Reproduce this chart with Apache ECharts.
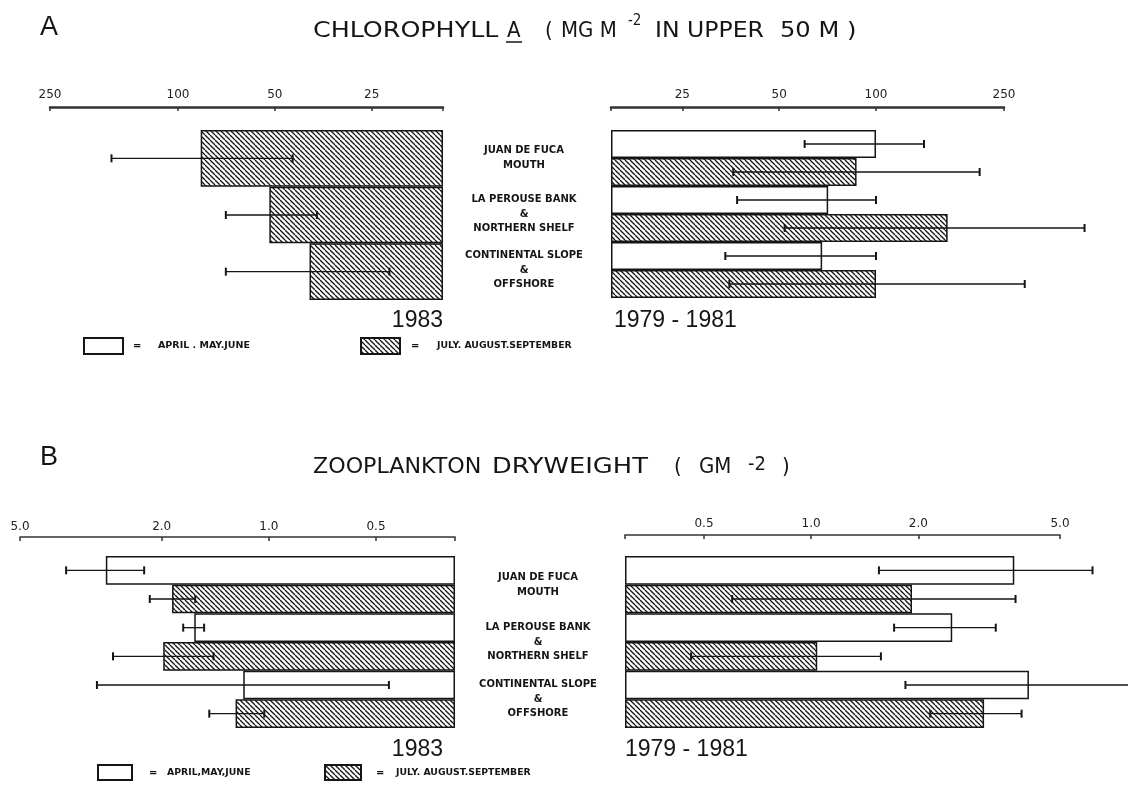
<!DOCTYPE html>
<html>
<head>
<meta charset="utf-8">
<script src="https://cdn.jsdelivr.net/npm/echarts@6/dist/echarts.min.js"></script>
<style>
html,body{margin:0;padding:0;background:#fff;}
#chart{width:1128px;height:789px;}
</style>
</head>
<body>
<div id="chart"></div>
<script>
// ---------------- DATA ----------------
const regions = ['JUAN DE FUCA\nMOUTH', 'LA PEROUSE BANK\n&\nNORTHERN SHELF', 'CONTINENTAL SLOPE\n&\nOFFSHORE'];

// Panel A: chlorophyll a (mg m^-2 in upper 50 m)
const chlAxisMin = 15, chlAxisMax = 250;
const chlTicks = [250, 100, 50, 25];
const chl1983Summer   = [85, 52, 39];
const chl1983SummerLo = [44, 37, 22];
const chl1983SummerHi = [161, 71, 71];
const chl7981Spring   = [100, 71, 68];
const chl7981SpringLo = [60, 37, 34];
const chl7981SpringHi = [141, 100, 100];
const chl7981Summer   = [87, 167, 100];
const chl7981SummerLo = [36, 52, 35];
const chl7981SummerHi = [210, 445, 290];

// Panel B: zooplankton dryweight (g m^-2)
const zooAxisMin = 0.3, zooAxisMax = 5.0;
const zooTicks = [5.0, 2.0, 1.0, 0.5];
const zoo1983Spring   = [2.87, 1.62, 1.18];
const zoo1983SpringLo = [2.24, 1.52, 0.46];
const zoo1983SpringHi = [3.71, 1.74, 3.04];
const zoo1983Summer   = [1.87, 1.98, 1.24];
const zoo1983SummerLo = [1.61, 1.43, 1.03];
const zoo1983SummerHi = [2.16, 2.74, 1.47];
const zoo7981Spring   = [3.72, 2.49, 4.09];
const zoo7981SpringLo = [1.55, 1.71, 1.84];
const zoo7981SpringHi = [6.17, 3.30, 9.0];
const zoo7981Summer   = [1.92, 1.04, 3.06];
const zoo7981SummerLo = [0.60, 0.46, 2.16];
const zoo7981SummerHi = [3.75, 1.57, 3.90];

// ---------------- STYLE ----------------
const INK = '#151515';
function makeHatch() {
  const c = document.createElement('canvas');
  c.width = 5; c.height = 5;
  const g = c.getContext('2d');
  g.strokeStyle = INK; g.lineWidth = 1.3;
  for (const o of [-5, 0, 5]) { g.beginPath(); g.moveTo(o, 0); g.lineTo(o + 5, 5); g.stroke(); }
  return c;
}
const hatch = {image: makeHatch(), repeat: 'repeat'};

const logU = base => v => Math.log10(v / base);
const uChl = logU(chlAxisMin), uZoo = logU(zooAxisMin);

function valAxis(gi, u, base, max, ticks, inverse, offset, lw, fmt, margin) {
  return {
    type: 'value', gridIndex: gi, position: 'top', inverse, offset,
    min: 0, max: u(max),
    splitLine: {show: false},
    axisLine: {show: true, lineStyle: {color: '#333', width: lw}},
    axisTick: {show: true, inside: true, length: 4, customValues: [0].concat(ticks.map(u)),
               lineStyle: {color: '#333', width: 1.5}},
    axisLabel: {show: true, customValues: ticks.map(u), margin,
                formatter: v => fmt(base * Math.pow(10, v)),
                color: '#222', fontSize: 12, fontFamily: 'DejaVu Sans'}
  };
}
function catAxis(gi, showLabel, margin) {
  return {
    type: 'category', gridIndex: gi, inverse: true, data: regions,
    axisLine: {show: false}, axisTick: {show: false}, splitLine: {show: false},
    axisLabel: {show: showLabel, margin, align: 'center', color: INK,
                fontSize: 10, fontWeight: 'bold', fontFamily: 'DejaVu Sans', lineHeight: 14.5}
  };
}
function barSeries(gi, vals, u, fill, width) {
  const s = {
    type: 'bar', xAxisIndex: gi, yAxisIndex: gi, z: 2,
    data: vals.map(u),
    barGap: '0%', barCategoryGap: '0%',
    itemStyle: {color: fill, borderColor: INK, borderWidth: 1.5},
    emphasis: {disabled: true}, animation: false
  };
  if (width) s.barWidth = width;
  return s;
}
function errSeries(gi, lo, hi, u, slot, nSlots) {
  return {
    type: 'custom', xAxisIndex: gi, yAxisIndex: gi, z: 5, clip: false, animation: false,
    data: lo.map((l, i) => [u(l), u(hi[i]), i]),
    encode: {x: [0, 1], y: 2},
    renderItem(params, api) {
      const a = api.coord([api.value(0), api.value(2)]);
      const b = api.coord([api.value(1), api.value(2)]);
      const band = api.size([0, 1])[1];
      const y = a[1] + (nSlots === 1 ? 0 : (slot === 0 ? -band / 4 : band / 4));
      const cap = 4;
      return {type: 'group', children: [
        {type: 'line', shape: {x1: a[0], y1: y, x2: b[0], y2: y}, style: {stroke: INK, lineWidth: 1.3}},
        {type: 'line', shape: {x1: a[0], y1: y - cap, x2: a[0], y2: y + cap}, style: {stroke: INK, lineWidth: 2}},
        {type: 'line', shape: {x1: b[0], y1: y - cap, x2: b[0], y2: y + cap}, style: {stroke: INK, lineWidth: 2}}
      ]};
    }
  };
}
const fmtInt = v => String(Math.round(v));
const fmt1 = v => (Math.round(v * 10) / 10).toFixed(1);

const titleFont = "'Liberation Sans Narrow', 'DejaVu Sans Condensed', 'Liberation Sans', sans-serif";
function txt(x, y, text, size, style, sx) {
  return {type: 'text', x, y, scaleX: sx || 1, style: Object.assign({
    text, fill: INK, fontSize: size, fontFamily: 'Liberation Sans', verticalAlign: 'middle'
  }, style || {})};
}
const T = {fontFamily: titleFont};
const legSmall = {fontFamily: 'DejaVu Sans', fontWeight: 'bold'};

const graphics = [
  // Panel A heading
  txt(40, 28, 'A', 27),
  txt(313, 31, 'CHLOROPHYLL', 22, T, 1.28),
  txt(507, 31, 'A', 22, T),
  {type: 'line', shape: {x1: 506, y1: 42, x2: 522, y2: 42}, style: {stroke: INK, lineWidth: 1.5}},
  txt(545, 31, '(', 22, T),
  txt(561, 31, 'MG M', 22, T),
  txt(628, 21, '-2', 15, T),
  txt(655, 31, 'IN UPPER', 22, T, 1.19),
  txt(780, 31, '50 M )', 22, T, 1.22),
  txt(443, 321, '1983', 23, {align: 'right'}),
  txt(614, 321, '1979 - 1981', 23),
  {type: 'rect', shape: {x: 84, y: 338, width: 39, height: 16}, style: {fill: '#fff', stroke: INK, lineWidth: 2}},
  txt(133, 346, '=', 10, legSmall),
  txt(158, 346, 'APRIL . MAY.JUNE', 9.5, legSmall),
  {type: 'rect', shape: {x: 361, y: 338, width: 39, height: 16}, style: {fill: hatch, stroke: INK, lineWidth: 2}},
  txt(411, 346, '=', 10, legSmall),
  txt(437, 346, 'JULY. AUGUST.SEPTEMBER', 9.3, legSmall),
  // Panel B heading
  txt(40, 458, 'B', 27),
  txt(313, 467, 'ZOOPLANKTON', 22, T, 1.12),
  txt(492, 467, 'DRYWEIGHT', 22, T, 1.3),
  txt(674, 467, '(', 22, T),
  txt(699, 467, 'GM', 22, T),
  txt(748, 465, '-2', 20, T),
  txt(782, 467, ')', 22, T),
  txt(443, 750, '1983', 23, {align: 'right'}),
  txt(625, 750, '1979 - 1981', 23),
  {type: 'rect', shape: {x: 98, y: 765, width: 34, height: 15}, style: {fill: '#fff', stroke: INK, lineWidth: 2}},
  txt(149, 773, '=', 10, legSmall),
  txt(167, 773, 'APRIL,MAY,JUNE', 9.3, legSmall),
  {type: 'rect', shape: {x: 325, y: 765, width: 36, height: 15}, style: {fill: hatch, stroke: INK, lineWidth: 2}},
  txt(376, 773, '=', 10, legSmall),
  txt(396, 773, 'JULY. AUGUST.SEPTEMBER', 9.3, legSmall)
];

const option = {
  backgroundColor: '#fff',
  animation: false,
  grid: [
    {left: 50, top: 130, width: 393, height: 170},
    {left: 611, top: 130, width: 393, height: 168},
    {left: 20, top: 556, width: 435, height: 172},
    {left: 625, top: 556, width: 435, height: 172}
  ],
  xAxis: [
    valAxis(0, uChl, chlAxisMin, chlAxisMax, chlTicks, true, 23, 2.5, fmtInt, 6),
    valAxis(1, uChl, chlAxisMin, chlAxisMax, chlTicks, false, 23, 2.5, fmtInt, 6),
    valAxis(2, uZoo, zooAxisMin, zooAxisMax, zooTicks, true, 19, 1.6, fmt1, 4),
    valAxis(3, uZoo, zooAxisMin, zooAxisMax, zooTicks, false, 21, 1.6, fmt1, 5)
  ],
  yAxis: [
    catAxis(0, false, 0),
    catAxis(1, true, 87),
    catAxis(2, false, 0),
    catAxis(3, true, 87)
  ],
  series: [
    barSeries(0, chl1983Summer, uChl, hatch, '100%'),
    errSeries(0, chl1983SummerLo, chl1983SummerHi, uChl, 0, 1),
    barSeries(1, chl7981Spring, uChl, '#fff'),
    barSeries(1, chl7981Summer, uChl, hatch),
    errSeries(1, chl7981SpringLo, chl7981SpringHi, uChl, 0, 2),
    errSeries(1, chl7981SummerLo, chl7981SummerHi, uChl, 1, 2),
    barSeries(2, zoo1983Spring, uZoo, '#fff'),
    barSeries(2, zoo1983Summer, uZoo, hatch),
    errSeries(2, zoo1983SpringLo, zoo1983SpringHi, uZoo, 0, 2),
    errSeries(2, zoo1983SummerLo, zoo1983SummerHi, uZoo, 1, 2),
    barSeries(3, zoo7981Spring, uZoo, '#fff'),
    barSeries(3, zoo7981Summer, uZoo, hatch),
    errSeries(3, zoo7981SpringLo, zoo7981SpringHi, uZoo, 0, 2),
    errSeries(3, zoo7981SummerLo, zoo7981SummerHi, uZoo, 1, 2)
  ],
  graphic: graphics
};
const chart = echarts.init(document.getElementById('chart'), null, {renderer: 'canvas'});
chart.setOption(option);
</script>
</body>
</html>
